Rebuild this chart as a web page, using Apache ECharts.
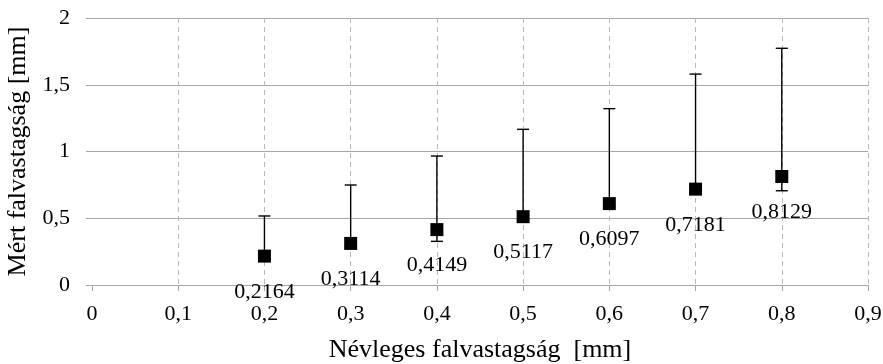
<!DOCTYPE html>
<html>
<head>
<meta charset="utf-8">
<script src="https://cdn.jsdelivr.net/npm/echarts@6/dist/echarts.min.js"></script>
<style>
  html, body { margin: 0; padding: 0; background: #fff; }
  #chart { width: 883px; height: 364px; }
</style>
</head>
<body>
<div id="chart"></div>
<script>
// nominal wall thickness (x) and measured mean (y)
var nominal = [0.2, 0.3, 0.4, 0.5, 0.6, 0.7, 0.8];
var measured = [0.2164, 0.3114, 0.4149, 0.5117, 0.6097, 0.7181, 0.8129];
// error bar ends
var errHigh = [0.517, 0.749, 0.966, 1.166, 1.321, 1.58, 1.773];
var errLow = [0.19, 0.285, 0.327, 0.485, 0.585, 0.69, 0.706];

var font = 'Liberation Serif, Times New Roman, serif';

function comma(v) {
  return String(+v.toFixed(4)).replace('.', ',');
}

var chart = echarts.init(document.getElementById('chart'));

var points = nominal.map(function (x, i) { return [x, measured[i]]; });
var bars = nominal.map(function (x, i) { return [x, errLow[i], errHigh[i]]; });

var xSplitColors = ['rgba(0,0,0,0)'];
for (var i = 0; i < 9; i++) xSplitColors.push('#b9b9b9');

chart.setOption({
  backgroundColor: '#fff',
  animation: false,
  grid: { left: 92, right: 15, top: 18, bottom: 79, containLabel: false, outerBoundsMode: 'none' },
  xAxis: {
    type: 'value',
    min: 0,
    max: 0.9,
    interval: 0.1,
    name: 'Névleges falvastagság  [mm]',
    nameLocation: 'middle',
    nameGap: 52,
    nameTextStyle: { fontFamily: font, fontSize: 26, color: '#000' },
    axisLine: { show: true, lineStyle: { color: '#a6a6a6', width: 1 } },
    axisTick: { show: true, length: 6, lineStyle: { color: '#a6a6a6' } },
    axisLabel: {
      fontFamily: font, fontSize: 22, color: '#000', margin: 18,
      formatter: comma
    },
    splitLine: {
      show: true,
      lineStyle: { color: xSplitColors, type: [5, 4], width: 1 }
    }
  },
  yAxis: {
    type: 'value',
    min: 0,
    max: 2,
    interval: 0.5,
    name: 'Mért falvastagság [mm]',
    nameLocation: 'middle',
    nameGap: 56,
    nameTextStyle: { fontFamily: font, fontSize: 26, color: '#000' },
    axisLine: { show: false },
    axisTick: { show: true, length: 6, lineStyle: { color: '#a6a6a6' } },
    axisLabel: {
      fontFamily: font, fontSize: 22, color: '#000', margin: 22,
      formatter: comma
    },
    splitLine: { show: true, lineStyle: { color: '#a6a6a6', width: 1 } }
  },
  series: [
    {
      type: 'custom',
      z: 2,
      data: bars,
      renderItem: function (params, api) {
        var top = api.coord([api.value(0), api.value(2)]);
        var bot = api.coord([api.value(0), api.value(1)]);
        var w = 6;
        var style = { stroke: '#000', lineWidth: 1.4 };
        return {
          type: 'group',
          children: [
            { type: 'line', shape: { x1: top[0], y1: top[1], x2: bot[0], y2: bot[1] }, style: style },
            { type: 'line', shape: { x1: top[0] - w, y1: top[1], x2: top[0] + w, y2: top[1] }, style: style },
            { type: 'line', shape: { x1: bot[0] - w, y1: bot[1], x2: bot[0] + w, y2: bot[1] }, style: style }
          ]
        };
      }
    },
    {
      type: 'scatter',
      z: 3,
      symbol: 'rect',
      symbolSize: 13,
      itemStyle: { color: '#000', opacity: 1 },
      data: points,
      label: {
        show: true,
        position: 'inside',
        offset: [0, 36],
        fontFamily: font,
        fontSize: 22,
        color: '#000',
        formatter: function (p) { return comma(p.value[1]); }
      }
    }
  ]
});
</script>
</body>
</html>
